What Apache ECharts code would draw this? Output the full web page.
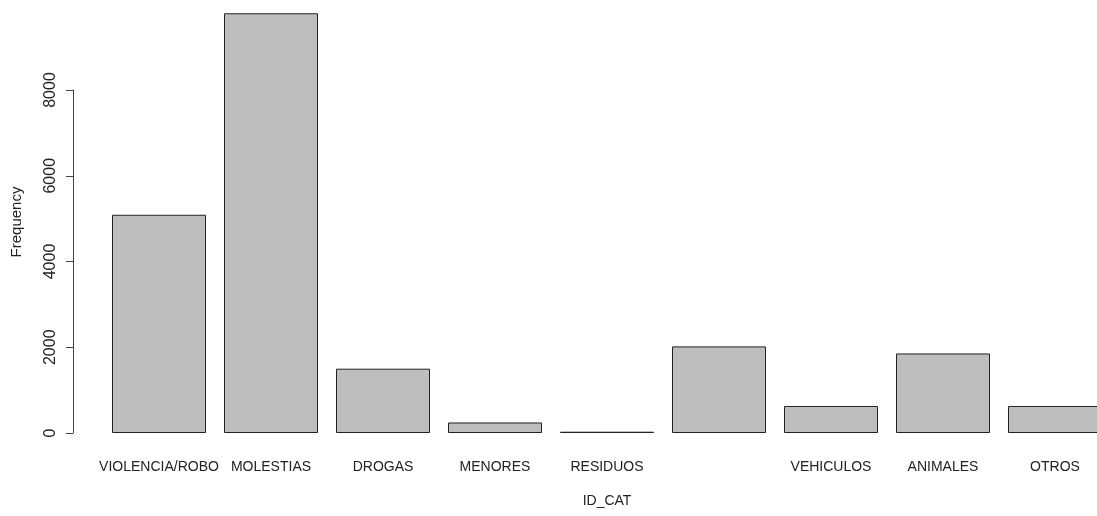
<!DOCTYPE html>
<html>
<head>
<meta charset="utf-8">
<title>ID_CAT</title>
<script src="https://cdn.jsdelivr.net/npm/echarts@6/dist/echarts.min.js"></script>
<style>
    html, body { margin: 0; padding: 0; background: #fff; }
    #chart { width: 1097px; height: 516px; }
</style>
</head>
<body>
<div id="chart"></div>
<script>
    // barplot of ID_CAT counts
    var categories = ['VIOLENCIA/ROBO', 'MOLESTIAS', 'DROGAS', 'MENORES', 'RESIDUOS', '', 'VEHICULOS', 'ANIMALES', 'OTROS']
    var counts = [5090, 9790, 1500, 245, 30, 2020, 630, 1855, 630]
    var yTicks = [0, 2000, 4000, 6000, 8000]

    var font = 'Arial, "Liberation Sans", sans-serif'

    var chart = echarts.init(document.getElementById('chart'))

    chart.setOption({
        animation: false,
        backgroundColor: '#fff',
        grid: {
            left: 103,
            width: 1008,
            top: 90,
            bottom: 83,
            outerBoundsMode: 'none'
        },
        xAxis: {
            type: 'category',
            data: categories,
            name: 'ID_CAT',
            nameLocation: 'middle',
            nameGap: 61,
            nameTextStyle: { fontFamily: font, fontSize: 14, color: '#222' },
            axisLine: { show: false },
            axisTick: { show: false },
            axisLabel: {
                interval: 0,
                margin: 27,
                fontFamily: font,
                fontSize: 14,
                color: '#222'
            }
        },
        yAxis: {
            type: 'value',
            min: yTicks[0],
            max: yTicks[yTicks.length - 1],
            interval: yTicks[1] - yTicks[0],
            offset: 30,
            axisLine: { show: true, lineStyle: { color: '#444', width: 1 } },
            axisTick: { show: true, length: 7, lineStyle: { color: '#444' } },
            splitLine: { show: false },
            axisLabel: {
                rotate: 90,
                margin: 14,
                fontFamily: font,
                fontSize: 16,
                color: '#222',
                formatter: function (v) { return String(v) }
            }
        },
        graphic: [{
            type: 'text',
            x: 17,
            y: 222,
            rotation: Math.PI / 2,
            style: {
                text: 'Frequency',
                fontFamily: font,
                fontSize: 15,
                fill: '#222',
                align: 'center',
                verticalAlign: 'middle'
            }
        }],
        series: [{
            type: 'bar',
            data: counts,
            barWidth: 94,
            clip: false,
            itemStyle: {
                color: '#bebebe',
                borderColor: '#222',
                borderWidth: 1
            }
        }]
    })
</script>
</body>
</html>
